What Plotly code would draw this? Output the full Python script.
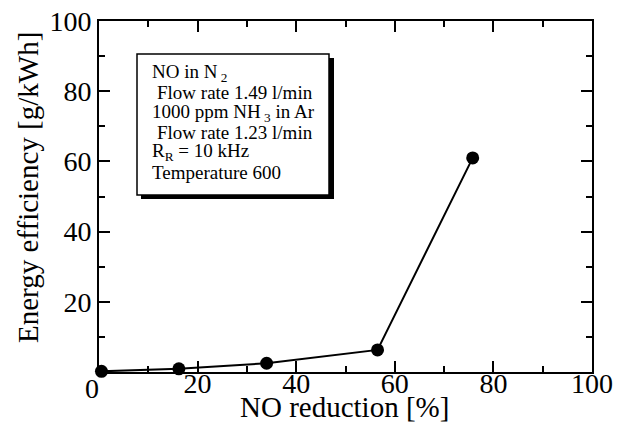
import plotly.graph_objects as go

# Measured points
no_reduction = [0.5, 16.2, 34.0, 56.5, 75.8]       # NO reduction [%]
energy_eff = [0.2, 0.9, 2.5, 6.3, 61.0]            # energy efficiency [g/kWh]

x_ticks = [20, 40, 60, 80, 100]
y_ticks = [20, 40, 60, 80, 100]

x_title = "NO reduction [%]"
y_title = "Energy efficiency [g/kWh]"

legend_lines = [
    "NO in N<sub> 2</sub>",
    "Flow rate 1.49 l/min",
    "1000 ppm NH<sub> 3</sub> in Ar",
    "Flow rate 1.23 l/min",
    "R<sub>R</sub> = 10 kHz",
    "Temperature 600",
]
legend_indent = [0, 1, 0, 1, 0, 0]

FONT = "Liberation Serif"
L, R, T, B = 99, 34, 21, 56
W, H = 626, 428
PW, PH = W - L - R, H - T - B


def px_x(px):
    return (px - L) / PW


def px_y(py):
    return (H - B - py) / PH


fig = go.Figure()
fig.add_trace(go.Scatter(
    x=no_reduction, y=energy_eff, mode="lines+markers",
    line=dict(color="black", width=2),
    marker=dict(color="black", size=13),
    showlegend=False, cliponaxis=False,
))

axis_common = dict(
    range=[0, 100], showgrid=False, zeroline=False, automargin=False,
    showline=True, linecolor="black", linewidth=2, mirror="ticks",
    ticks="inside", ticklen=11, tickwidth=1.5, tickcolor="black",
    tickfont=dict(family=FONT, size=28, color="black"),
    minor=dict(ticks="inside", ticklen=6, tickwidth=1.5, tickcolor="black", dtick=10),
)

fig.update_xaxes(**axis_common, tickvals=x_ticks, ticklabelstandoff=-15)
fig.update_yaxes(**axis_common, tickvals=y_ticks)

# axis titles
fig.add_annotation(x=px_x(344), y=px_y(407), xref="paper", yref="paper", text=x_title,
                   showarrow=False, xanchor="center", yanchor="middle",
                   font=dict(family=FONT, size=29, color="black"))
fig.add_annotation(x=px_x(28), y=px_y(188), xref="paper", yref="paper", text=y_title,
                   showarrow=False, xanchor="center", yanchor="middle", textangle=-90,
                   font=dict(family=FONT, size=29, color="black"))

# origin label
fig.add_annotation(x=0, y=0, xref="x", yref="y", text="0", showarrow=False,
                   xanchor="center", yanchor="top", xshift=-7, yshift=1,
                   font=dict(family=FONT, size=28, color="black"))

# condition box with drop shadow
fig.add_shape(type="rect", xref="paper", yref="paper",
              x0=px_x(141), x1=px_x(334), y0=px_y(199), y1=px_y(58),
              fillcolor="black", line=dict(color="black", width=0))
fig.add_shape(type="rect", xref="paper", yref="paper",
              x0=px_x(137), x1=px_x(329), y0=px_y(195), y1=px_y(54),
              fillcolor="white", line=dict(color="black", width=1.5))

line_y0 = 73
line_step = 19.8
for i, (txt, ind) in enumerate(zip(legend_lines, legend_indent)):
    fig.add_annotation(
        x=px_x(150 + 5 * ind), y=px_y(line_y0 + i * line_step),
        xref="paper", yref="paper", text=txt, showarrow=False,
        xanchor="left", yanchor="middle", align="left",
        font=dict(family=FONT, size=19, color="black"),
    )

fig.update_layout(
    width=W, height=H,
    margin=dict(l=L, r=R, t=T, b=B),
    plot_bgcolor="white", paper_bgcolor="white",
    font=dict(family=FONT, color="black"),
)

fig.write_html("out.html")
